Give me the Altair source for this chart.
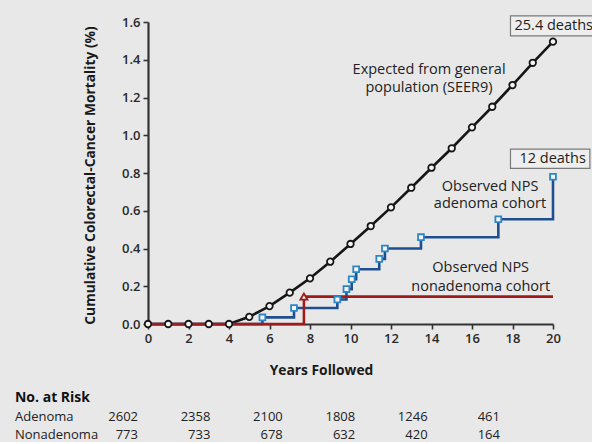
import altair as alt
import pandas as pd

# ---- data ----
exp_years = list(range(0, 21))
exp_values = [0.0, 0.0, 0.0, 0.0, 0.0, 0.038, 0.095, 0.166, 0.242, 0.330, 0.424,
              0.519, 0.618, 0.722, 0.828, 0.931, 1.042, 1.151, 1.266, 1.384, 1.496]

aden_years = [0, 5.65, 7.21, 9.35, 9.8, 10.06, 10.28, 11.42, 11.7, 13.48, 17.3, 20]
aden_values = [0.0, 0.035, 0.085, 0.13, 0.185, 0.237, 0.29, 0.345, 0.40, 0.46, 0.555, 0.78]

nonaden_years = [0, 7.7, 20]
nonaden_values = [0.0, 0.145, 0.145]

x_ticks = [0, 2, 4, 6, 8, 10, 12, 14, 16, 18, 20]
y_ticks = [0.0, 0.2, 0.4, 0.6, 0.8, 1.0, 1.2, 1.4, 1.6]

risk_cols = [0, 1, 2, 3, 4, 5]
risk_adenoma = ["2602", "2358", "2100", "1808", "1246", "461"]
risk_nonadenoma = ["773", "733", "678", "632", "420", "164"]

FONT = "Open Sans"
BG = "#e8e8e8"
BLACK = "#161616"
BLUE = "#1f4f8f"
BLUE_MK = "#2a86c6"
RED = "#9e1c1c"
MKFILL = "#f4f4f4"
TXT = "#222222"
ANN_SIZE = 14.5

exp_df = pd.DataFrame({"x": exp_years, "y": exp_values})
aden_df = pd.DataFrame({"x": aden_years, "y": aden_values})
non_df = pd.DataFrame({"x": nonaden_years, "y": nonaden_values})

xs = alt.Scale(domain=[0, 20], nice=False, zero=False)
ys = alt.Scale(domain=[0, 1.6], nice=False)

xaxis = alt.Axis(values=x_ticks, title="Years Followed", format="d",
                 labelFlush=False, labelOverlap=False,
                 titleX=173, titleY=46, titleBaseline="middle", titleAnchor="start",
                 titleAlign="center")
yaxis = alt.Axis(values=y_ticks, format=".1f", tickCount=9,
                 labelFlush=False, labelOverlap=False,
                 title="Cumulative Colorectal-Cancer Mortality (%)",
                 titleX=-58, titleY=153, titleBaseline="middle", titleAlign="center",
                 titleAnchor="start", titleAngle=-90)

X = alt.X("x:Q", scale=xs, axis=xaxis)
Y = alt.Y("y:Q", scale=ys, axis=yaxis)

exp_line = alt.Chart(exp_df).mark_line(color=BLACK, strokeWidth=2.6).encode(x=X, y=Y)
aden_line = alt.Chart(aden_df).mark_line(color=BLUE, strokeWidth=2.6, interpolate="step-after").encode(x=X, y=Y)
non_line = alt.Chart(non_df).mark_line(color=RED, strokeWidth=2.6, interpolate="step-after").encode(x=X, y=Y)

exp_pts = alt.Chart(exp_df).mark_point(shape="circle", size=42, filled=True, fill=MKFILL,
                                       stroke=BLACK, strokeWidth=1.8, opacity=1).encode(x=X, y=Y)
aden_pts = alt.Chart(aden_df.iloc[1:]).mark_point(shape="square", size=34, filled=True, fill=MKFILL,
                                                  stroke=BLUE_MK, strokeWidth=1.8, opacity=1).encode(x=X, y=Y)
non_pts = alt.Chart(non_df.iloc[1:2]).mark_point(shape="triangle-up", size=50, filled=True, fill=MKFILL,
                                                 stroke=RED, strokeWidth=1.8, opacity=1).encode(x=X, y=Y)

# boxed labels
box_df = pd.DataFrame({"x": [17.9, 17.9], "x2": [22.3, 21.82],
                       "y": [1.526, 0.825], "y2": [1.632, 0.927]})
boxes = alt.Chart(box_df).mark_rect(fill="#eeeeee", stroke="#7a7a7a", strokeWidth=1.2).encode(
    x=X, x2="x2:Q", y=Y, y2="y2:Q")

box_text_df = pd.DataFrame({"x": [18.1, 19.98], "y": [1.579, 0.874],
                            "t": ["25.4 deaths", "12 deaths"]})
box_text = alt.Chart(box_text_df.iloc[[0]]).mark_text(font=FONT, fontSize=ANN_SIZE, color=TXT,
                                                      baseline="middle", align="left").encode(x=X, y=Y, text="t:N") + \
    alt.Chart(box_text_df.iloc[[1]]).mark_text(font=FONT, fontSize=ANN_SIZE, color=TXT,
                                               baseline="middle", align="center").encode(x=X, y=Y, text="t:N")

ann_df = pd.DataFrame({
    "x": [13.88, 13.88, 16.89, 16.89, 16.43, 16.43],
    "y": [1.346, 1.25, 0.727, 0.634, 0.295, 0.198],
    "t": ["Expected from general", "population (SEER9)", "Observed NPS", "adenoma cohort",
          "Observed NPS", "nonadenoma cohort"],
})
ann = alt.Chart(ann_df).mark_text(font=FONT, fontSize=ANN_SIZE, color=TXT, baseline="middle",
                                  align="center").encode(x=X, y=Y, text="t:N")

# number at risk table (own scales, placed below the plot)
tbl_x = alt.Scale(domain=[0, 5], range=[-10, 352])
tbl_y = alt.Scale(domain=[0, 2], range=[376, 413])
risk_df = pd.DataFrame({
    "col": risk_cols + risk_cols,
    "row": [1] * 6 + [2] * 6,
    "t": risk_adenoma + risk_nonadenoma,
})
TX = alt.X("col:Q", scale=tbl_x, axis=None)
TY = alt.Y("row:Q", scale=tbl_y, axis=None)
risk_num = alt.Chart(risk_df).mark_text(font=FONT, fontSize=13, color=TXT, align="right",
                                        baseline="middle").encode(x=TX, y=TY, text="t:N")

lab_df = pd.DataFrame({"col": [-1.699, -1.699, -1.699], "row": [0, 1, 2],
                       "t": ["No. at Risk", "Adenoma", "Nonadenoma"]})
lab_bold = alt.Chart(lab_df.iloc[[0]]).mark_text(font=FONT, fontSize=14, fontWeight="bold",
                                                 color="#111111", align="left", baseline="middle").encode(
    x=TX, y=TY, text="t:N")
lab_norm = alt.Chart(lab_df.iloc[1:]).mark_text(font=FONT, fontSize=13, color=TXT,
                                                align="left", baseline="middle").encode(
    x=TX, y=TY, text="t:N")

table = alt.layer(risk_num, lab_bold, lab_norm)

main = alt.layer(exp_line, aden_line, non_line, exp_pts, aden_pts, non_pts,
                 boxes, box_text, ann)

chart = alt.layer(main, table).resolve_scale(x="independent", y="independent").properties(
    width=405, height=302,
    autosize=alt.AutoSizeParams(type="none"),
    padding={"left": 148, "top": 22, "right": 39, "bottom": 118},
    background=BG,
).configure_view(stroke=None, fill=BG).configure_axis(
    grid=False, domainColor="#333333", domainWidth=2.2, tickColor="#333333", tickWidth=1.6,
    tickSize=5, labelFont=FONT, labelFontSize=13, labelFontWeight=600, labelColor="#2a2a2a",
    labelPadding=3, titleFont=FONT, titleFontSize=13.8, titleFontWeight="bold", titleColor="#1a1a1a",
)

chart.save("out.html", embed_options={"renderer": "svg", "actions": False})
